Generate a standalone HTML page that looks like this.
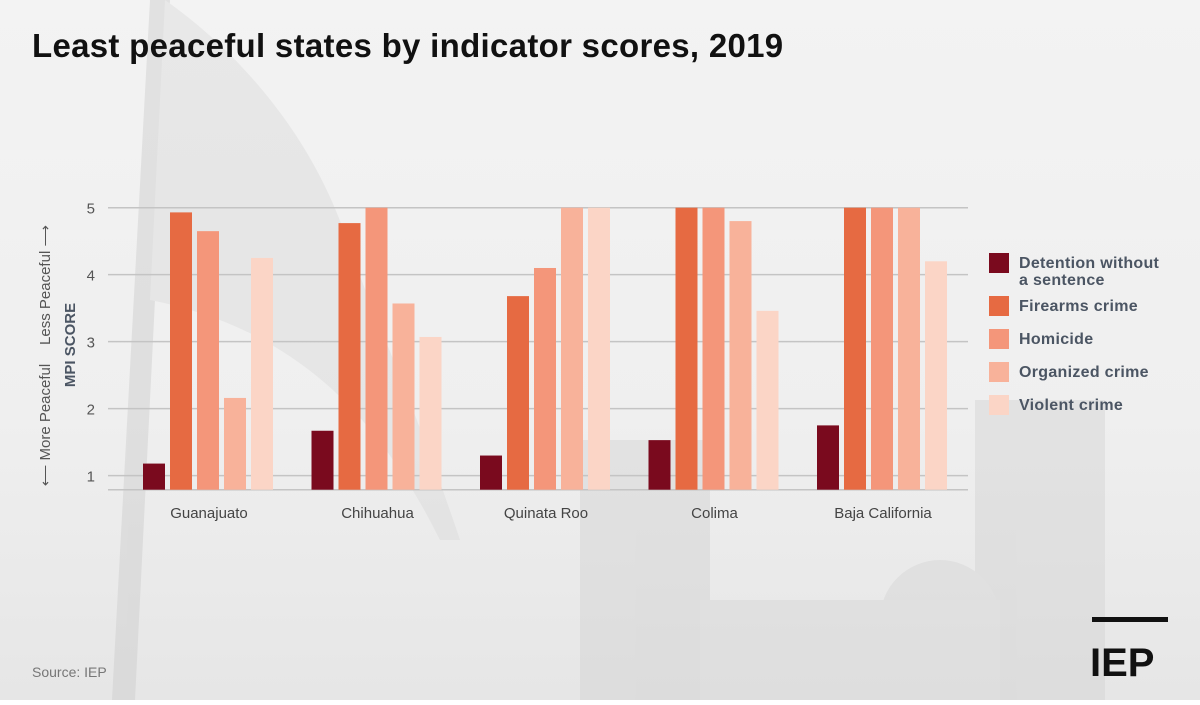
<!DOCTYPE html>
<html><head><meta charset="utf-8"><style>
body{margin:0;width:1200px;height:700px;overflow:hidden;font-family:"Liberation Sans",sans-serif;}
#wrap{position:relative;width:1200px;height:700px;background:linear-gradient(180deg,#f3f3f3 0%,#efefef 60%,#e6e6e6 100%);}
</style></head><body>
<div id="wrap">
<svg width="1200" height="700" id="svg">
  <g opacity="0.4">
    <path d="M150,0 L170,0 L135,700 L112,700 Z" fill="#c8c8c8"/>
    <path d="M165,0 C250,60 320,150 350,250 C380,330 420,420 460,540 L440,540 C380,420 300,330 150,300 Z" fill="#d8d8d8"/>
    <rect x="580" y="440" width="130" height="260" fill="#cfcfcf"/>
    <rect x="975" y="400" width="130" height="300" fill="#cfcfcf"/>
    <ellipse cx="940" cy="620" rx="60" ry="60" fill="#d2d2d2"/>
    <rect x="700" y="600" width="300" height="100" fill="#d4d4d4"/>
  </g>
  <text x="32" y="57" font-size="33" font-weight="bold" letter-spacing="0.3" fill="#111">Least peaceful states by indicator scores, 2019</text>
  <g id="grid"></g>
  <g id="bars"></g>
  <g id="xlabels"></g>
  <text transform="translate(75,345) rotate(-90)" text-anchor="middle" font-size="15" font-weight="bold" fill="#4b5563">MPI SCORE</text>
  <text transform="translate(50,285) rotate(-90)" text-anchor="middle" font-size="15" fill="#555">Less Peaceful ⟶</text>
  <text transform="translate(50,425) rotate(-90)" text-anchor="middle" font-size="15" fill="#555">⟵ More Peaceful</text>
  <g id="legend"></g>
  <text x="32" y="677" font-size="14" fill="#777">Source: IEP</text>
  <g>
    <rect x="1092" y="617" width="76" height="5" fill="#111"/>
    <text x="1090" y="676" font-size="40" font-weight="bold" fill="#111">IEP</text>
  </g>
</svg>
</div>
<script>
const categories=["Guanajuato","Chihuahua","Quinata Roo","Colima","Baja California"];
const seriesNames=["Detention without|a sentence","Firearms crime","Homicide","Organized crime","Violent crime"];
const detention=[1.18,1.67,1.3,1.53,1.75];
const firearms=[4.93,4.77,3.68,5,5];
const homicide=[4.65,5,4.1,5,5];
const organized=[2.16,3.57,5,4.8,5];
const violent=[4.25,3.07,5,3.46,4.2];
const yTicks=[1,2,3,4,5];
const colors=["#7a0a1e","#e66a42","#f4967a","#f8b29a","#fbd5c6"];
const series=[detention,firearms,homicide,organized,violent];
const NS="http://www.w3.org/2000/svg";
const yMin=0.79,yMax=5,yTop=207.7,yBot=489.7;
function y(v){return yBot-(v-yMin)/(yMax-yMin)*(yBot-yTop);}
const x0=108,x1=968,step=168.5,firstBar=143;
function gx(i){return firstBar+i*step;}
const grid=document.getElementById('grid');
yTicks.forEach(t=>{
  const l=document.createElementNS(NS,'line');
  l.setAttribute('x1',x0);l.setAttribute('x2',x1);l.setAttribute('y1',y(t));l.setAttribute('y2',y(t));
  l.setAttribute('stroke','#c4c4c4');l.setAttribute('stroke-width','1.5');
  
  
  grid.appendChild(l);
  const tx=document.createElementNS(NS,'text');
  tx.setAttribute('x',95);tx.setAttribute('y',y(t)+6);tx.setAttribute('text-anchor','end');
  tx.setAttribute('font-size','15');tx.setAttribute('fill','#555');tx.textContent=t;
  
  
  grid.appendChild(tx);
});
const base=document.createElementNS(NS,'line');
base.setAttribute('x1',x0);base.setAttribute('x2',x1);base.setAttribute('y1',yBot);base.setAttribute('y2',yBot);
base.setAttribute('stroke','#c4c4c4');base.setAttribute('stroke-width','1.5');


grid.appendChild(base);
const bars=document.getElementById('bars'),xl=document.getElementById('xlabels');
categories.forEach((c,i)=>{
  series.forEach((s,j)=>{
    const r=document.createElementNS(NS,'rect');
    const bx=gx(i)+j*27;
    r.setAttribute('x',bx);r.setAttribute('width',22);
    r.setAttribute('y',y(s[i]));r.setAttribute('height',yBot-y(s[i]));
    r.setAttribute('fill',colors[j]);
    
    
    bars.appendChild(r);
  });
  const t=document.createElementNS(NS,'text');
  t.setAttribute('x',gx(i)+66);t.setAttribute('y',518);t.setAttribute('text-anchor','middle');
  t.setAttribute('font-size','15');t.setAttribute('fill','#444');t.textContent=c;
  
  
  xl.appendChild(t);
});
const lg=document.getElementById('legend');
const ly=[253,296,329,362,395];
seriesNames.forEach((n,j)=>{
  const g=document.createElementNS(NS,'g');
  
  
  const r=document.createElementNS(NS,'rect');
  r.setAttribute('x',989);r.setAttribute('y',ly[j]);r.setAttribute('width',20);r.setAttribute('height',20);
  r.setAttribute('fill',colors[j]);g.appendChild(r);
  n.split('|').forEach((p,k)=>{
    const t=document.createElementNS(NS,'text');
    t.setAttribute('x',1019);t.setAttribute('y',ly[j]+15+k*17);
    t.setAttribute('font-size','16');t.setAttribute('font-weight','bold');t.setAttribute('letter-spacing','0.3');t.setAttribute('fill','#4b5563');
    t.textContent=p;g.appendChild(t);
  });
  lg.appendChild(g);
});
</script>
</body></html>
